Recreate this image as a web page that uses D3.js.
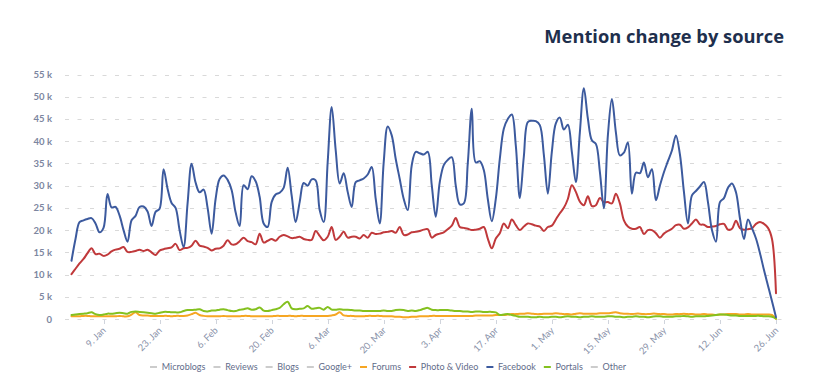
<!DOCTYPE html>
<html><head><meta charset="utf-8">
<script src="https://cdn.jsdelivr.net/npm/d3@7/dist/d3.min.js"></script>
<style>
html,body{margin:0;padding:0;background:#fff;}
svg{display:block;}
</style></head>
<body>
<svg id="chart" width="830" height="390"></svg>
<script>
// ---------- DATA ----------
const startDate = "2017-01-01";
const endDate = "2017-06-26";
const tickDates = ["2017-01-09","2017-01-23","2017-02-06","2017-02-20","2017-03-06","2017-03-20","2017-04-03","2017-04-17","2017-05-01","2017-05-15","2017-05-29","2017-06-12","2017-06-26"];
const tickLabels = ["9. Jan","23. Jan","6. Feb","20. Feb","6. Mar","20. Mar","3. Apr","17. Apr","1. May","15. May","29. May","12. Jun","26. Jun"];
const yTicks = [0,5000,10000,15000,20000,25000,30000,35000,40000,45000,50000,55000];
const yTickLabels = ["0","5 k","10 k","15 k","20 k","25 k","30 k","35 k","40 k","45 k","50 k","55 k"];
const legendNames = ["Microblogs","Reviews","Blogs","Google+","Forums","Photo & Video","Facebook","Portals","Other"];
const legendColors = ["#cccccc","#cccccc","#cccccc","#cccccc","#f6a623","#c0393b","#3c5a9e","#84c11f","#cccccc"];

// daily values, thousands of mentions
const facebook = [13.1,18.0,21.8,22.2,22.5,22.7,21.5,19.5,20.5,28.1,25.1,25.2,23.3,20.0,17.4,22.2,23.2,25.2,25.3,24.2,
20.9,24.1,24.8,33.7,29.3,26.1,25.0,20.0,16.2,26.0,34.9,30.7,28.5,29.1,25.0,19.2,27.0,31.5,32.3,31.3,
29.0,24.0,20.9,30.1,29.2,32.1,31.0,27.5,21.5,20.7,26.3,28.0,28.4,29.5,34.0,27.8,21.8,26.3,30.6,30.0,
31.4,31.2,24.5,21.8,35.3,47.7,38.0,30.5,32.8,28.6,25.2,30.8,31.2,31.6,32.5,34.2,27.0,21.5,35.3,43.3,
41.3,36.0,31.5,27.0,24.5,34.6,37.6,37.3,37.0,37.6,30.1,23.0,30.8,34.6,35.8,36.4,30.0,25.8,26.0,35.0,
47.3,35.2,35.5,33.5,27.0,22.0,27.0,36.0,42.8,45.0,46.0,39.0,27.2,36.5,44.3,44.6,44.5,43.6,37.0,28.2,
37.6,44.0,45.3,42.6,43.7,37.6,30.8,42.0,51.9,45.1,40.2,39.4,33.1,24.9,41.3,49.5,42.0,36.8,37.4,39.7,
28.2,32.9,32.8,35.2,31.9,33.7,26.7,30.0,33.0,35.5,37.9,41.3,37.0,28.6,21.5,27.8,28.8,29.8,30.8,26.3,
20.0,17.4,26.3,27.2,29.5,30.5,28.5,22.6,18.0,22.4,20.4,18.1,14.8,11.0,7.5,4.0,0.4];
const photoVideo = [10.1,11.3,12.5,13.5,14.8,15.9,14.6,14.7,14.2,14.5,15.2,15.6,15.8,16.2,15.1,15.1,15.3,15.6,15.3,15.6,
15.0,14.4,15.4,15.7,15.9,16.1,16.9,15.5,15.9,16.0,16.5,17.6,16.5,16.3,16.0,15.4,15.8,15.9,16.5,17.7,
16.8,16.8,17.5,18.3,17.5,17.3,16.8,19.2,17.2,17.6,18.0,17.6,18.5,18.9,18.6,18.2,18.3,18.5,18.0,17.8,
17.8,19.8,18.7,17.7,18.5,20.7,17.8,18.5,19.6,18.3,18.5,18.5,18.1,18.9,18.3,19.4,19.1,19.2,19.5,19.6,
19.8,19.4,20.7,18.9,19.0,19.5,19.6,19.8,20.1,20.2,18.3,18.9,19.2,19.5,20.2,21.0,22.7,20.7,20.5,20.3,
20.0,20.1,20.3,20.7,18.1,15.9,18.1,19.3,21.5,20.4,22.4,21.1,20.0,20.8,21.5,21.3,21.0,20.8,19.8,20.7,
21.0,22.4,23.8,25.0,27.0,30.1,28.6,26.4,25.6,27.6,25.4,25.6,27.2,26.3,26.3,26.0,28.2,26.0,22.2,20.8,
20.3,20.3,20.7,19.1,20.0,20.0,19.3,18.3,19.2,19.8,20.3,21.1,21.2,20.3,20.6,21.5,22.4,21.3,21.2,20.7,
20.8,20.9,21.3,21.4,20.1,20.3,22.1,20.4,20.1,20.2,20.4,21.4,21.8,21.4,20.5,18.0,5.8];
const portals = [0.9,1.0,1.1,1.2,1.3,1.5,1.1,0.9,1.0,1.2,1.2,1.3,1.4,1.3,1.2,1.6,1.7,1.6,1.5,1.4,
1.3,1.2,1.4,1.6,1.6,1.5,1.5,1.5,1.8,2.0,2.0,2.1,2.2,1.8,1.7,1.9,1.9,2.1,2.2,2.0,
1.8,1.8,2.1,2.2,2.4,2.1,2.2,2.6,1.9,1.8,2.0,2.2,2.5,3.3,3.9,2.4,2.2,2.3,2.4,2.9,
2.3,2.4,2.5,2.1,2.7,2.1,2.1,2.2,2.1,2.1,2.0,1.9,1.9,1.8,1.8,1.8,1.8,1.8,1.9,1.8,
1.8,2.0,2.1,2.0,1.8,1.9,1.8,2.0,2.3,2.5,2.1,2.0,2.0,2.0,2.0,1.9,1.8,1.8,1.7,1.7,
1.6,1.7,1.7,1.6,1.6,1.6,1.5,0.9,1.0,1.1,0.9,0.7,0.5,0.5,0.5,0.4,0.4,0.5,0.4,0.4,
0.5,0.5,0.4,0.5,0.6,0.5,0.5,0.4,0.5,0.5,0.6,0.5,0.5,0.5,0.6,0.6,0.5,0.5,0.4,0.5,
0.5,0.6,0.5,0.5,0.4,0.5,0.6,0.6,0.5,0.5,0.5,0.6,0.6,0.7,0.6,0.5,0.6,0.6,0.6,0.7,
0.8,0.9,1.0,1.0,0.9,0.8,0.8,0.7,0.7,0.7,0.7,0.7,0.7,0.6,0.6,0.5,0.1];
const forums = [0.6,0.6,0.6,0.7,0.7,0.6,0.6,0.6,0.6,0.6,0.6,0.6,0.7,0.6,0.6,1.0,1.5,0.9,0.8,0.8,
0.7,0.7,0.7,0.7,0.7,0.6,0.7,0.7,0.7,0.8,1.1,1.4,0.9,0.7,0.6,0.6,0.6,0.6,0.7,0.6,
0.6,0.6,0.6,0.7,0.7,0.6,0.6,0.6,0.6,0.6,0.6,0.7,0.7,0.7,0.7,0.7,0.6,0.7,0.7,0.7,
0.7,0.7,0.7,0.7,0.7,0.8,1.0,1.5,0.8,0.7,0.7,0.6,0.6,0.6,0.7,0.7,0.7,0.7,0.6,0.6,
0.6,0.5,0.5,0.4,0.4,0.5,0.5,0.6,0.6,0.6,0.7,0.7,0.7,0.7,0.7,0.7,0.7,0.7,0.7,0.7,
0.7,0.8,0.8,0.8,0.8,0.8,0.9,0.9,0.9,1.0,1.1,1.1,1.2,1.2,1.3,1.2,1.1,1.1,1.2,1.2,
1.2,1.3,1.2,1.1,1.1,1.0,1.2,1.3,1.2,1.2,1.2,1.2,1.3,1.3,1.3,1.4,1.5,1.3,1.2,1.2,
1.1,1.2,1.2,1.1,1.1,1.2,1.2,1.1,1.1,1.0,1.0,1.1,1.1,1.2,1.1,1.1,1.0,1.0,1.1,1.0,
1.0,0.9,1.0,1.0,1.1,1.1,1.1,1.0,1.0,1.1,1.0,1.0,1.0,1.0,1.0,0.9,0.0];

// ---------- LAYOUT ----------
const svg = d3.select("#chart");
const parse = d3.timeParse("%Y-%m-%d");
const days = d3.timeDay.range(parse(startDate), d3.timeDay.offset(parse(endDate), 1));

const x = d3.scaleTime().domain([parse(startDate), parse(endDate)]).range([71.5, 776]);
const y = d3.scaleLinear().domain([0, 55000]).range([319, 74.5]);

const gridX0 = 65, gridX1 = 784;
const labelFont = "Lato, 'Open Sans', sans-serif";
const axisColor = "#7c86a0";

// grid
const grid = svg.append("g");
grid.selectAll("line").data(yTicks).join("line")
  .attr("x1", gridX0).attr("x2", gridX1)
  .attr("y1", d => Math.round(y(d)) + 0.5).attr("y2", d => Math.round(y(d)) + 0.5)
  .attr("stroke", "#d9d9d9").attr("stroke-width", 1)
  .attr("stroke-dasharray", "4,8.5");

// y axis labels
svg.append("g").selectAll("text").data(yTicks).join("text")
  .attr("x", 52).attr("y", d => y(d) + 3.5)
  .attr("text-anchor", "end")
  .attr("font-family", labelFont).attr("font-size", 9.5).attr("font-weight", 700)
  .attr("fill", axisColor)
  .text((d, i) => yTickLabels[i]);

// x ticks & labels
const xt = svg.append("g");
xt.selectAll("line").data(tickDates).join("line")
  .attr("x1", d => Math.round(x(parse(d))) + 0.5).attr("x2", d => Math.round(x(parse(d))) + 0.5)
  .attr("y1", 320).attr("y2", 324)
  .attr("stroke", "#d0d4dc");
xt.selectAll("text").data(tickDates).join("text")
  .attr("transform", d => `translate(${x(parse(d)) + 3},${331}) rotate(-45)`)
  .attr("text-anchor", "end")
  .attr("font-family", labelFont).attr("font-size", 9.5)
  .attr("fill", "#8a93aa")
  .text((d, i) => tickLabels[i]);

// series
const series = [
  {name: "Forums", values: forums, color: "#f6a623"},
  {name: "Portals", values: portals, color: "#84c11f"},
  {name: "Photo & Video", values: photoVideo, color: "#c0393b"},
  {name: "Facebook", values: facebook, color: "#3c5a9e"}
];
const line = d3.line()
  .x((d, i) => x(days[i]))
  .y(d => y(d * 1000))
  .curve(d3.curveCatmullRom.alpha(0.5));
svg.append("g").selectAll("path").data(series).join("path")
  .attr("d", s => line(s.values))
  .attr("fill", "none")
  .attr("stroke", s => s.color)
  .attr("stroke-width", 2)
  .attr("stroke-linejoin", "round")
  .attr("stroke-linecap", "round");

// title
svg.append("text")
  .attr("x", 784).attr("y", 43)
  .attr("text-anchor", "end")
  .attr("font-family", "'Open Sans', sans-serif")
  .attr("font-size", 18.3).attr("font-weight", 700)
  .attr("fill", "#1e2f4d")
  .text("Mention change by source");

// legend
const lg = svg.append("g").attr("transform", "translate(150,367)");
let lx = 0;
legendNames.forEach((name, i) => {
  const g = lg.append("g").attr("transform", `translate(${lx},0)`);
  g.append("line").attr("x1", 0).attr("x2", 7).attr("y1", 0).attr("y2", 0)
    .attr("stroke", legendColors[i]).attr("stroke-width", 2);
  const t = g.append("text").attr("x", 11.7).attr("y", 3.3)
    .attr("font-family", labelFont).attr("font-size", 9)
    .attr("fill", "#5f6c8a").text(name);
  lx += 11.7 + t.node().getComputedTextLength() + 8;
});
</script>
</body></html>
